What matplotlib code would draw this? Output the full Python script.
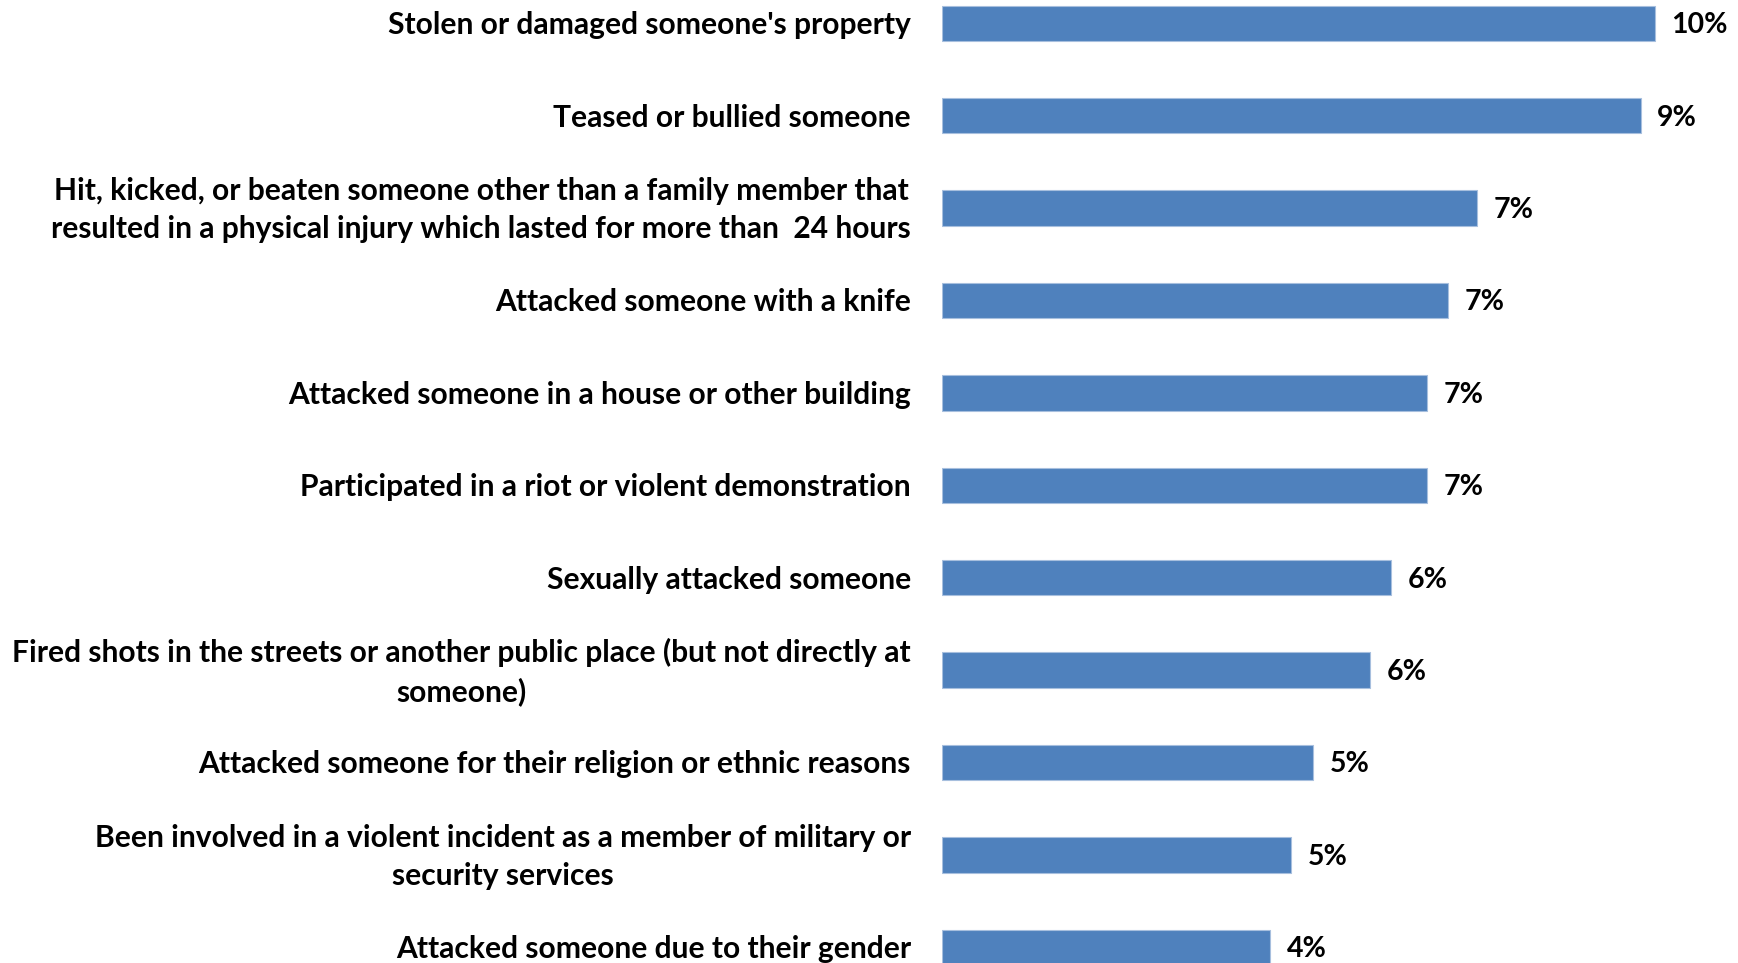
import matplotlib
matplotlib.use("Agg")
import matplotlib.pyplot as plt

# categories, top to bottom
categories = [
    "Stolen or damaged someone's property",
    "Teased or bullied someone",
    "Hit, kicked, or beaten someone other than a family member that\nresulted in a physical injury which lasted for more than  24 hours",
    "Attacked someone with a knife",
    "Attacked someone in a house or other building",
    "Participated in a riot or violent demonstration",
    "Sexually attacked someone",
    "Fired shots in the streets or another public place (but not directly at\nsomeone)",
    "Attacked someone for their religion or ethnic reasons",
    "Been involved in a violent incident as a member of military or\nsecurity services",
    "Attacked someone due to their gender",
]
# bar lengths (percent)
values = [10.0, 9.8, 7.5, 7.1, 6.8, 6.8, 6.3, 6.0, 5.2, 4.9, 4.6]
# labels as printed on the chart
value_labels = ["10%", "9%", "7%", "7%", "7%", "7%", "6%", "6%", "5%", "5%", "4%"]

W, H = 1738, 963
fig = plt.figure(figsize=(W / 100, H / 100), dpi=100)

px_per_unit = 71.3      # full-size pixels per percent
bar_left = 942
ax = fig.add_axes([bar_left / W, 0, 1 - bar_left / W, 1])
ax.set_xlim(0, (W - bar_left) / px_per_unit)

step = 92.4
first = 23.3
ax.set_ylim((H - first) / step, -first / step)

font = ["Lato", "DejaVu Sans"]
blue = "#4F81BD"

ypos = list(range(len(categories)))
ax.barh(ypos, values, height=0.385, color=blue, edgecolor="#A7BFDE", linewidth=0.8)

for y, v, lab in zip(ypos, values, value_labels):
    ax.text(v + 16.6 / px_per_unit, y + 0.02, lab, ha="left", va="center",
            fontsize=20.5, fontweight="bold", family=font, color="black")

for y, cat in zip(ypos, categories):
    ax.text(-31 / px_per_unit, y + 0.02, cat, ha="right", va="center", multialignment="center",
            fontsize=21.6, fontweight="bold", family=font, color="black",
            linespacing=1.45, clip_on=False)

ax.axis("off")
fig.savefig("out.png", dpi=100)
